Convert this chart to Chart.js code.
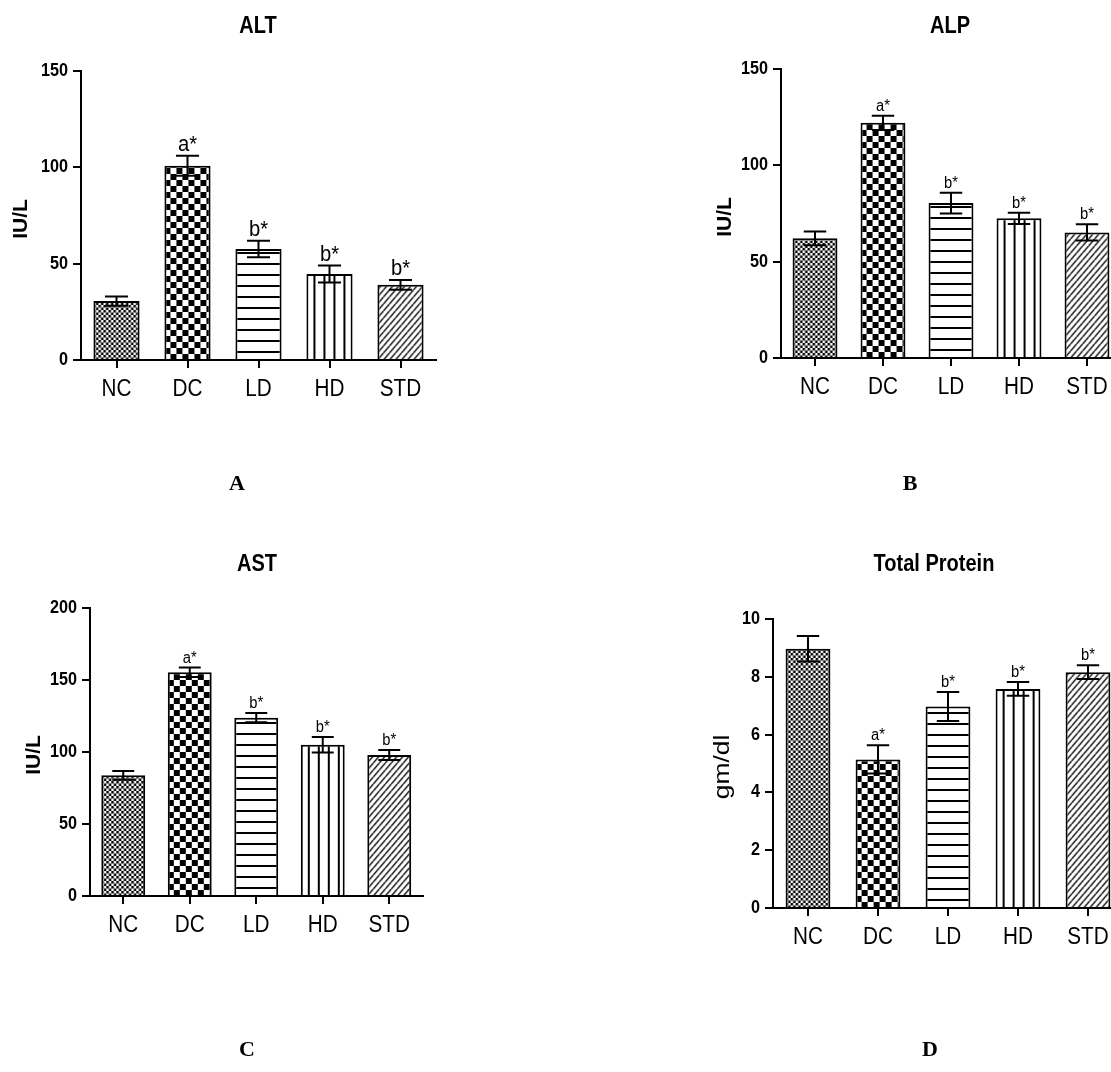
<!DOCTYPE html>
<html><head><meta charset="utf-8">
<script src="https://cdn.jsdelivr.net/npm/chart.js@4.4.0/dist/chart.umd.min.js"></script>
<style>
html,body{margin:0;padding:0;background:#fff;overflow:hidden;}
#wrap{position:relative;width:1111px;height:1072px;overflow:hidden;background:#fff;}
canvas{position:absolute;}
</style></head><body>
<div id="wrap">
<canvas id="cA" width="450" height="536" style="left:0px;top:0px"></canvas>
<canvas id="cB" width="430" height="536" style="left:700px;top:0px"></canvas>
<canvas id="cC" width="450" height="536" style="left:0px;top:536px"></canvas>
<canvas id="cD" width="440" height="536" style="left:690px;top:536px"></canvas>
</div>
<script>
// ---------- DATA ----------
const categories = ['NC', 'DC', 'LD', 'HD', 'STD'];
const sigLabels = ['', 'a*', 'b*', 'b*', 'b*'];

const altMean = [30.6, 100.8, 57.6, 44.6, 39.0];
const altSem  = [2.4, 5.2, 4.3, 4.4, 2.5];

const alpMean = [62.1, 122.1, 80.4, 72.5, 65.2];
const alpSem  = [3.6, 3.7, 5.4, 2.9, 4.2];

const astMean = [83.8, 155.3, 123.8, 105.0, 97.9];
const astSem  = [3.0, 3.3, 3.2, 5.4, 3.5];

const tpMean = [8.97, 5.14, 6.97, 7.58, 8.16];
const tpSem  = [0.44, 0.49, 0.50, 0.24, 0.24];

const ticks150 = [0, 50, 100, 150];
const ticks200 = [0, 50, 100, 150, 200];
const ticks10  = [0, 2, 4, 6, 8, 10];

// ---------- STYLE ----------
const SANS = "'Liberation Sans',Arial,sans-serif";
const SERIF = "'Liberation Serif','Times New Roman',serif";
const kinds = ['fine', 'check', 'hline', 'vline', 'diag'];

function makePattern(kind) {
  const c = document.createElement('canvas');
  const g = c.getContext('2d');
  if (kind === 'fine') {
    c.width = 5; c.height = 5;
    g.fillStyle = '#fff'; g.fillRect(0, 0, 5, 5);
    g.fillStyle = '#000'; g.fillRect(0, 0, 2.5, 2.5); g.fillRect(2.5, 2.5, 2.5, 2.5);
  } else if (kind === 'check') {
    c.width = 12; c.height = 12;
    g.fillStyle = '#fff'; g.fillRect(0, 0, 12, 12);
    g.fillStyle = '#000'; g.fillRect(0, 0, 6, 6); g.fillRect(6, 6, 6, 6);
  } else if (kind === 'hline') {
    c.width = 4; c.height = 11;
    g.fillStyle = '#fff'; g.fillRect(0, 0, 4, 11);
    g.fillStyle = '#000'; g.fillRect(0, 0, 4, 2);
  } else if (kind === 'vline') {
    c.width = 10; c.height = 4;
    g.fillStyle = '#fff'; g.fillRect(0, 0, 10, 4);
    g.fillStyle = '#000'; g.fillRect(0, 0, 2, 4);
  } else if (kind === 'diag') {
    const w = 6, h = 7;
    c.width = w; c.height = h;
    g.fillStyle = '#fff'; g.fillRect(0, 0, w, h);
    g.strokeStyle = '#000'; g.lineWidth = 1.4;
    g.beginPath();
    for (const dx of [-w, 0, w]) { g.moveTo(dx, h); g.lineTo(dx + w, 0); }
    g.stroke();
  }
  return c.getContext('2d').createPattern(c, 'repeat');
}

function txt(ctx, s, x, y, font, align, baseline, sx, rot) {
  ctx.save();
  ctx.translate(x, y);
  if (rot) ctx.rotate(rot);
  ctx.scale(sx, 1);
  ctx.font = font;
  ctx.fillStyle = '#000';
  ctx.textAlign = align;
  ctx.textBaseline = baseline;
  ctx.fillText(s, 0, 0);
  ctx.restore();
}

function decorPlugin(p) {
  return {
    id: 'decor' + p.letter,
    beforeDatasetsDraw(chart) {
      const meta = chart.getDatasetMeta(0);
      const bgs = chart.data.datasets[0].backgroundColor;
      const bottom = chart.chartArea.bottom;
      meta.data.forEach((bar, i) => {
        const left = bar.x - bar.width / 2;
        let m;
        if (kinds[i] === 'vline') m = new DOMMatrix().translate(left + 7, 0);
        else if (kinds[i] === 'hline') m = new DOMMatrix().translate(0, bottom - 9);
        else m = new DOMMatrix().translate(left, bottom);
        bgs[i].setTransform(m);
      });
    },
    afterDatasetsDraw(chart) {
      const ctx = chart.ctx;
      const meta = chart.getDatasetMeta(0);
      const ys = chart.scales.y;
      ctx.save();
      ctx.strokeStyle = '#000';
      ctx.lineWidth = 2;
      meta.data.forEach((bar, i) => {
        const m = p.means[i], s = p.sems[i];
        const x = bar.x, hw = bar.width / 4;
        const yt = ys.getPixelForValue(m + s), yb = ys.getPixelForValue(m - s);
        ctx.beginPath();
        ctx.moveTo(x, yt); ctx.lineTo(x, yb);
        ctx.moveTo(x - hw, yt); ctx.lineTo(x + hw, yt);
        ctx.moveTo(x - hw, yb); ctx.lineTo(x + hw, yb);
        ctx.stroke();
        if (sigLabels[i]) txt(ctx, sigLabels[i], x, yt - 5, p.sigSize + 'px ' + SANS, 'center', 'alphabetic', 0.92);
      });
      ctx.restore();
    },
    afterDraw(chart) {
      const ctx = chart.ctx;
      const xs = chart.scales.x, ys = chart.scales.y;
      const area = chart.chartArea;
      categories.forEach((c, i) => {
        txt(ctx, c, xs.getPixelForTick(i), area.bottom + 36, '23px ' + SANS, 'center', 'alphabetic', 0.9);
      });
      p.ticks.forEach(v => {
        txt(ctx, String(v), area.left - 13, ys.getPixelForValue(v), 'bold 18px ' + SANS, 'right', 'middle', 0.9);
      });
      txt(ctx, p.title, p.titleX, p.titleY, 'bold 23px ' + SANS, 'center', 'middle', 0.87);
      txt(ctx, p.yTitle, p.yTitleX, p.yTitleY, p.yTitleFont, 'center', 'middle', p.yTitleSX, -Math.PI / 2);
      ctx.save();
      ctx.fillStyle = '#000';
      ctx.textAlign = 'center';
      ctx.textBaseline = 'middle';
      ctx.font = 'bold 22px ' + SERIF;
      ctx.fillText(p.letter, p.letterX, p.letterY);
      ctx.restore();
    }
  };
}

function build(p) {
  const canvas = document.getElementById(p.id);
  const H = canvas.height, W = canvas.width;
  const xH = 40;
  const cfg = {
    type: 'bar',
    data: {
      labels: categories,
      datasets: [{
        data: p.means,
        backgroundColor: kinds.map(makePattern),
        borderColor: '#000',
        borderWidth: 2,
        barPercentage: p.barPct,
        categoryPercentage: 1.0
      }]
    },
    options: {
      responsive: false,
      animation: false,
      events: [],
      layout: { padding: { left: 0, top: p.top, right: W - p.right, bottom: H - p.bottom - xH } },
      plugins: { legend: { display: false }, tooltip: { enabled: false }, title: { display: false } },
      scales: {
        x: {
          offset: true,
          afterFit: s => { s.height = xH; },
          grid: { display: true, offset: false, drawOnChartArea: false, drawTicks: true, tickLength: 8, color: '#000', lineWidth: 2 },
          border: { display: true, color: '#000', width: 2 },
          ticks: { display: false }
        },
        y: {
          min: 0, max: p.max,
          afterFit: s => { s.width = p.left; },
          afterBuildTicks: s => { s.ticks = p.ticks.map(v => ({ value: v })); },
          grid: { display: true, drawOnChartArea: false, drawTicks: true, tickLength: 8, color: '#000', lineWidth: 2 },
          border: { display: true, color: '#000', width: 2 },
          ticks: { display: false }
        }
      }
    },
    plugins: [decorPlugin(p)]
  };
  return new Chart(canvas, cfg);
}

const IUL_FONT = 'bold 21px ' + SANS;
const GMDL_FONT = '22px ' + SANS;

build({ id: 'cA', means: altMean, sems: altSem, max: 150, ticks: ticks150,
  left: 81, top: 71, right: 436, bottom: 360, barPct: 0.65, sigSize: 22,
  title: 'ALT', titleX: 258, titleY: 27, yTitle: 'IU/L', yTitleFont: IUL_FONT, yTitleSX: 1.0, yTitleX: 21, yTitleY: 219,
  letter: 'A', letterX: 237, letterY: 484 });
build({ id: 'cB', means: alpMean, sems: alpSem, max: 150, ticks: ticks150,
  left: 81, top: 69, right: 421, bottom: 358, barPct: 0.66, sigSize: 16,
  title: 'ALP', titleX: 250, titleY: 27, yTitle: 'IU/L', yTitleFont: IUL_FONT, yTitleSX: 1.0, yTitleX: 25, yTitleY: 217,
  letter: 'B', letterX: 210, letterY: 484 });
build({ id: 'cC', means: astMean, sems: astSem, max: 200, ticks: ticks200,
  left: 90, top: 72, right: 422.5, bottom: 360, barPct: 0.66, sigSize: 16,
  title: 'AST', titleX: 257, titleY: 29, yTitle: 'IU/L', yTitleFont: IUL_FONT, yTitleSX: 1.0, yTitleX: 34, yTitleY: 219,
  letter: 'C', letterX: 247, letterY: 514 });
build({ id: 'cD', means: tpMean, sems: tpSem, max: 10, ticks: ticks10,
  left: 83, top: 83, right: 433, bottom: 372, barPct: 0.64, sigSize: 16,
  title: 'Total Protein', titleX: 244, titleY: 29, yTitle: 'gm/dl', yTitleFont: GMDL_FONT, yTitleSX: 1.2, yTitleX: 33, yTitleY: 231,
  letter: 'D', letterX: 240, letterY: 514 });
</script>
</body></html>
